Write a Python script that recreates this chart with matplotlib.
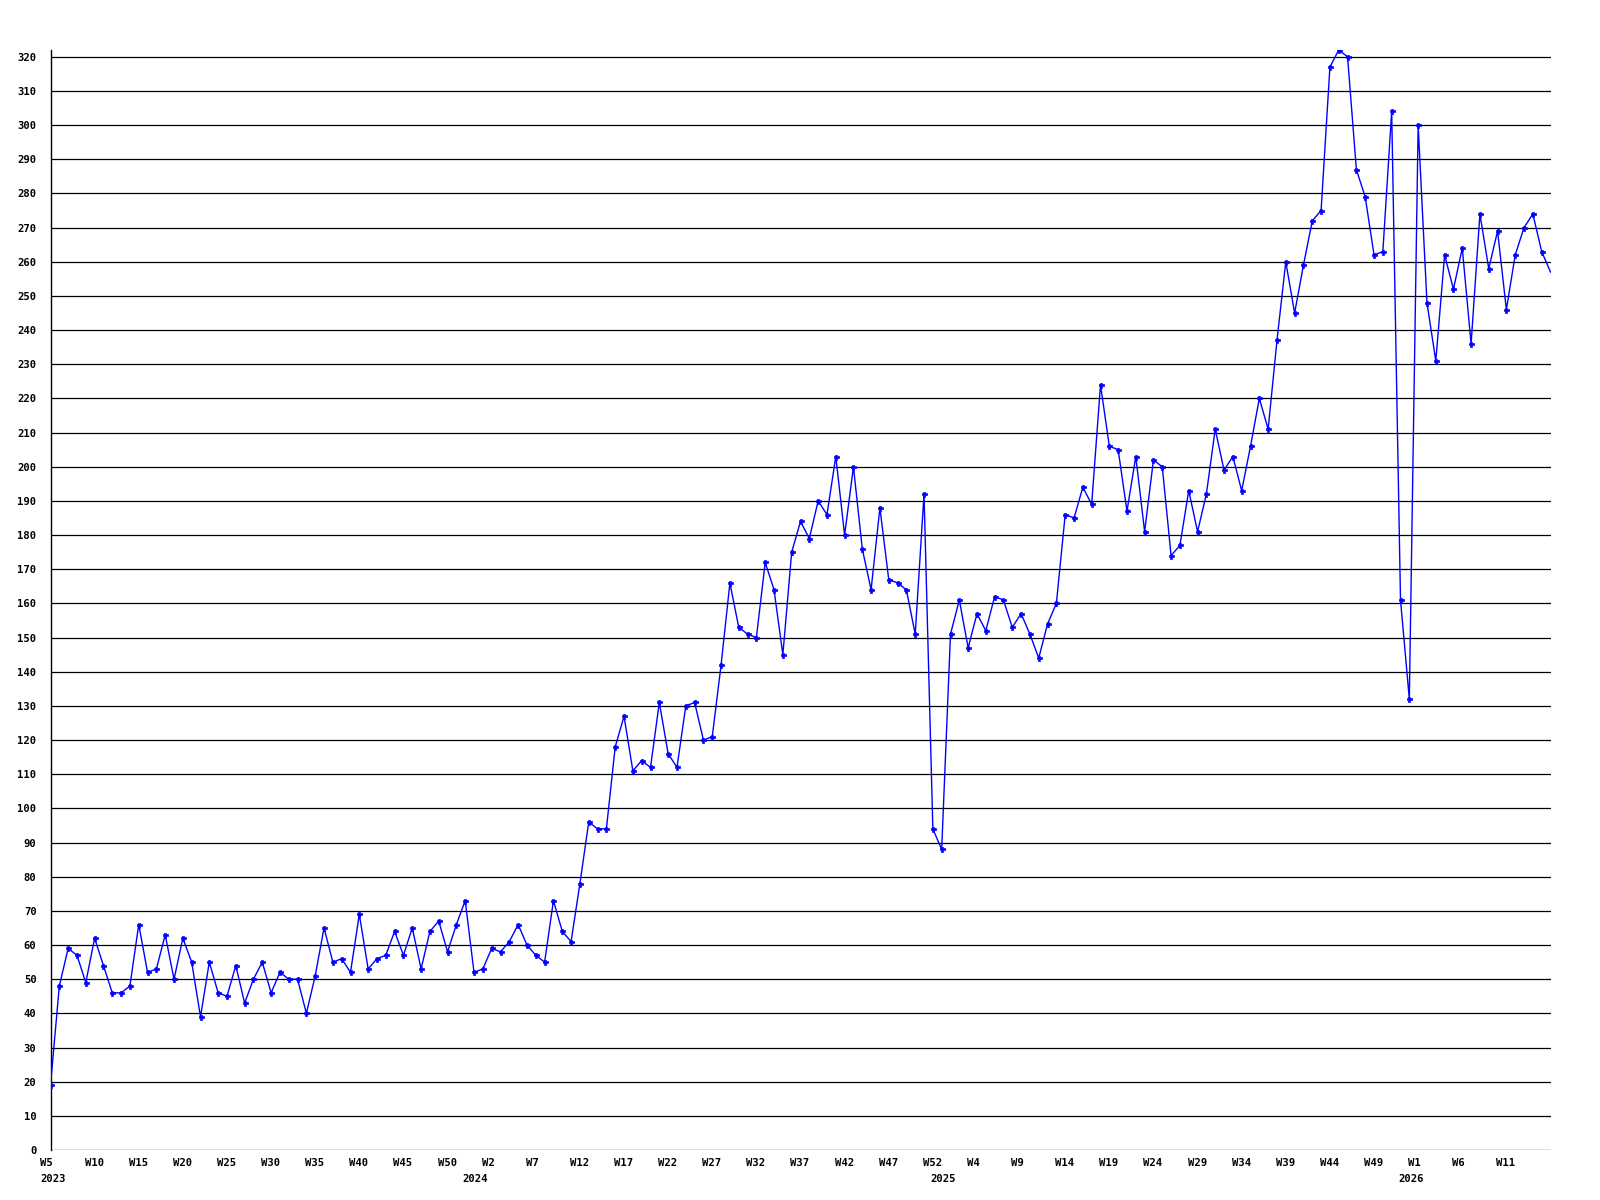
import matplotlib
matplotlib.use("Agg")
import matplotlib.pyplot as plt
from matplotlib.transforms import ScaledTranslation
import numpy as np

# Weekly values, 2023 W5 .. 2026 W16
values = [
    19, 48, 59, 57, 49, 62, 54, 46, 46, 48,
    66, 52, 53, 63, 50, 62, 55, 39, 55, 46,
    45, 54, 43, 50, 55, 46, 52, 50, 50, 40,
    51, 65, 55, 56, 52, 69, 53, 56, 57, 64,
    57, 65, 53, 64, 67, 58, 66, 73, 52, 53,
    59, 58, 61, 66, 60, 57, 55, 73, 64, 61,
    78, 96, 94, 94, 118, 127, 111, 114, 112, 131,
    116, 112, 130, 131, 120, 121, 142, 166, 153, 151,
    150, 172, 164, 145, 175, 184, 179, 190, 186, 203,
    180, 200, 176, 164, 188, 167, 166, 164, 151, 192,
    94, 88, 151, 161, 147, 157, 152, 162, 161, 153,
    157, 151, 144, 154, 160, 186, 185, 194, 189, 224,
    206, 205, 187, 203, 181, 202, 200, 174, 177, 193,
    181, 192, 211, 199, 203, 193, 206, 220, 211, 237,
    260, 245, 259, 272, 275, 317, 322, 320, 287, 279,
    262, 263, 304, 161, 132, 300, 248, 231, 262, 252,
    264, 236, 274, 258, 269, 246, 262, 270, 274, 263,
    257,
]

tick_positions = list(range(0, 170, 5))
tick_labels = ["W5", "W10", "W15", "W20", "W25", "W30", "W35", "W40", "W45", "W50",
               "W2", "W7", "W12", "W17", "W22", "W27", "W32", "W37", "W42", "W47",
               "W52", "W4", "W9", "W14", "W19", "W24", "W29", "W34", "W39", "W44",
               "W49", "W1", "W6", "W11"]
year_labels = ["2023", "2024", "2025", "2026"]
year_positions = [0, 49, 102, 155]

FONT = dict(family="DejaVu Sans Mono", weight="bold", size=7.6)
BLUE = "#0000FF"

fig = plt.figure(figsize=(16, 12), dpi=100)
ax = fig.add_axes([50.5 / 1600, 50 / 1200, 1500 / 1600, 1100 / 1200])

x = np.arange(len(values))
ax.plot(x, values, color=BLUE, lw=1.0, zorder=3, clip_on=True)
ax.plot(x[:-1], values[:-1], ls="none", marker="P", ms=3.6, color=BLUE,
        mec=BLUE, mew=0.5, zorder=4, clip_on=True)

ax.set_xlim(0, 170)
ax.set_ylim(0, 322)

yt = np.arange(0, 321, 10)
for v in yt:
    ax.axhline(v, color="black", lw=0.9, zorder=1)
ax.set_yticks(yt)
ax.set_yticklabels([str(v) for v in yt], **FONT)
ax.tick_params(axis="y", length=0, pad=10)

ax.set_xticks(tick_positions)
ax.set_xticklabels(tick_labels, ha="left", **FONT)
ax.tick_params(axis="x", length=0, pad=6)
off = ScaledTranslation(-10 / 100, 0, fig.dpi_scale_trans)
for lab in ax.get_xticklabels():
    lab.set_transform(lab.get_transform() + off)

for yr, pos in zip(year_labels, year_positions):
    dx = -10 if pos == 0 else -20
    t = ax.text(pos, -0.0215, yr, ha="left", va="top",
                transform=ax.get_xaxis_transform(), **FONT)
    t.set_transform(t.get_transform() + ScaledTranslation(dx / 100, 0, fig.dpi_scale_trans))

for s in ["top", "right", "bottom"]:
    ax.spines[s].set_visible(False)
ax.spines["left"].set_color("black")
ax.spines["left"].set_linewidth(1.0)

fig.savefig("out.png", dpi=100, facecolor="white")
